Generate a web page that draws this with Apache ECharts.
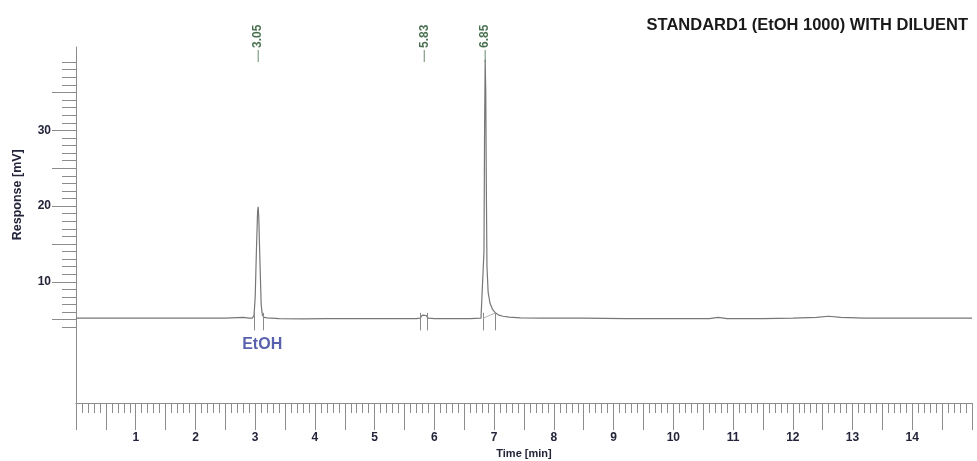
<!DOCTYPE html>
<html>
<head>
<meta charset="utf-8">
<script src="https://cdn.jsdelivr.net/npm/echarts@6/dist/echarts.min.js"></script>
<style>
	html, body { margin: 0; padding: 0; background: #fff; }
	#chart { width: 977px; height: 461px; }
</style>
</head>
<body>
<div id="chart"></div>
<script>
// chromatogram trace
var times = [0, 0.5, 1.0, 1.5, 2.0, 2.5, 2.8, 2.9, 2.95, 2.98, 3.00, 3.02, 3.04, 3.05, 3.06, 3.08, 3.10, 3.12, 3.15, 3.2,
	3.4, 3.8, 4.2, 4.6, 5.0, 5.4, 5.7, 5.76, 5.80, 5.83, 5.86, 5.90, 6.0, 6.3, 6.6, 6.78, 6.81, 6.83, 6.84, 6.85,
	6.86, 6.87, 6.88, 6.90, 6.93, 6.97, 7.02, 7.08, 7.15, 7.25, 7.44, 7.8, 8.5, 9.2, 10.0, 10.6, 10.75, 10.9, 11.5,
	12.0, 12.4, 12.6, 12.8, 13.2, 14.0, 15.0];
var response = [5.2, 5.2, 5.2, 5.2, 5.2, 5.2, 5.3, 5.2, 5.2, 5.5, 8.0, 14.0, 19.3, 19.9, 18.5, 12.5, 7.0, 5.6, 5.3, 5.25,
	5.15, 5.1, 5.15, 5.15, 5.15, 5.15, 5.15, 5.2, 5.6, 5.75, 5.55, 5.2, 5.15, 5.15, 5.15, 5.2, 5.4, 14, 30, 39.3,
	35, 22, 12, 8.6, 7.2, 6.4, 5.9, 5.6, 5.45, 5.35, 5.25, 5.2, 5.2, 5.15, 5.15, 5.15, 5.3, 5.15, 5.15,
	5.2, 5.3, 5.45, 5.3, 5.2, 5.2, 5.2];

// retention times printed above the peaks
var peakTimes = [3.05, 5.83, 6.85];
// integration start / end markers under the peaks
var markerTimes = [2.99, 3.13, 5.76, 5.88, 6.82, 7.02];
var markerTop = 5.9;
var markerBottom = 3.6;
// drawn integration baseline under the big peak (start, end)
var intBaseTimes = [6.82, 7.02];
var intBaseValues = [5.2, 5.9];

var compoundName = "EtOH";
var compoundTime = 3.05;
var baseLevel = 5.2;

var titleText = "STANDARD1 (EtOH 1000) WITH DILUENT";

var axisGray = "#8c8c8c";
var labelColor = "#23243a";

var trace = [];
for (var i = 0; i < times.length; i++) {
	trace.push([times[i], response[i]]);
}

var markerLines = [];
for (var j = 0; j < markerTimes.length; j++) {
	markerLines.push([{ coord: [markerTimes[j], markerTop] }, { coord: [markerTimes[j], markerBottom] }]);
}
markerLines.push([
	{ coord: [intBaseTimes[0], intBaseValues[0]], lineStyle: { color: "#b0b0b0" } },
	{ coord: [intBaseTimes[1], intBaseValues[1]] }
]);

var peakPoints = [];
for (var k = 0; k < peakTimes.length; k++) {
	peakPoints.push([peakTimes[k], 0]);
}

var chart = echarts.init(document.getElementById("chart"));

// main grid y from -6 (x axis) to 41 (top of axis line)
// outerBoundsMode none: keep grids where they are put, labels may hang out
var option = {
	animation: false,
	title: {
		text: titleText,
		right: 4,
		top: 12,
		textStyle: { fontFamily: "Liberation Sans", fontSize: 16.5, fontWeight: "bold", color: "#1a1a1a" }
	},
	grid: [
		{ left: 76, right: 5, top: 47, bottom: 58, outerBoundsMode: "none" },
		// minor y ticks 4..39
		{ left: 76, right: 5, top: 62.15, bottom: 133.7, outerBoundsMode: "none" },
		// major y ticks 5..35
		{ left: 76, right: 5, top: 92.45, bottom: 141.32, outerBoundsMode: "none" },
		// peak labels strip
		{ left: 76, right: 5, top: 20, bottom: 399, outerBoundsMode: "none" }
	],
	xAxis: [{
		gridIndex: 0,
		type: "value",
		min: 0,
		max: 15,
		interval: 0.5,
		name: "Time [min]",
		nameLocation: "middle",
		nameGap: 44,
		nameTextStyle: { fontFamily: "Liberation Sans", fontSize: 11, fontWeight: "bold", color: labelColor },
		axisLine: { show: true, onZero: false, lineStyle: { color: axisGray, width: 1 } },
		axisTick: { show: true, length: 27, lineStyle: { color: axisGray } },
		minorTick: { show: true, splitNumber: 5, length: 10, lineStyle: { color: axisGray } },
		splitLine: { show: false },
		axisLabel: {
			margin: 29,
			fontFamily: "Liberation Sans",
			fontSize: 12,
			fontWeight: "bold",
			color: labelColor,
			formatter: function(v) {
				return (v % 1 === 0 && v > 0 && v < 15) ? String(v) : "";
			}
		}
	}, {
		gridIndex: 1, type: "value", min: 0, max: 15, show: false
	}, {
		gridIndex: 2, type: "value", min: 0, max: 15, show: false
	}, {
		gridIndex: 3, type: "value", min: 0, max: 15, show: false
	}],
	yAxis: [{
		gridIndex: 0,
		type: "value",
		min: -6,
		max: 41,
		axisLine: { show: true, onZero: false, lineStyle: { color: axisGray, width: 1 } },
		axisTick: { show: false },
		axisLabel: { show: false },
		splitLine: { show: false }
	}, {
		gridIndex: 1,
		type: "value",
		min: 4,
		max: 39,
		interval: 1,
		name: "Response [mV]",
		nameLocation: "middle",
		nameGap: 52,
		nameTextStyle: { fontFamily: "Liberation Sans", fontSize: 12.5, fontWeight: "bold", color: labelColor },
		axisLine: { show: false, onZero: false },
		axisTick: { show: true, length: 14, lineStyle: { color: axisGray } },
		axisLabel: { show: false },
		splitLine: { show: false }
	}, {
		gridIndex: 2,
		type: "value",
		min: 5,
		max: 35,
		interval: 5,
		axisLine: { show: false, onZero: false },
		axisTick: { show: true, length: 24, lineStyle: { color: axisGray } },
		axisLabel: {
			margin: 25,
			fontFamily: "Liberation Sans",
			fontSize: 12,
			fontWeight: "bold",
			color: labelColor,
			formatter: function(v) {
				return v % 10 === 0 ? String(v) : "";
			}
		},
		splitLine: { show: false }
	}, {
		gridIndex: 3, type: "value", min: 0, max: 1, show: false
	}],
	series: [{
		name: "Response",
		type: "line",
		xAxisIndex: 0,
		yAxisIndex: 0,
		data: trace,
		showSymbol: false,
		lineStyle: { color: "#777", width: 1.2 },
		markLine: {
			silent: true,
			symbol: ["none", "none"],
			label: { show: false },
			lineStyle: { color: "#8a8a8a", width: 1, type: "solid" },
			data: markerLines
		}
	}, {
		name: "compound",
		type: "scatter",
		xAxisIndex: 0,
		yAxisIndex: 0,
		data: [{ name: compoundName, value: [compoundTime, baseLevel] }],
		symbolSize: 1,
		itemStyle: { color: "rgba(0,0,0,0)" },
		label: {
			show: true,
			position: "bottom",
			distance: 18,
			offset: [4, 0],
			formatter: "{b}",
			fontFamily: "Liberation Sans",
			fontSize: 16,
			fontWeight: "bold",
			color: "#2f3a9a"
		}
	}, {
		name: "peaks",
		type: "scatter",
		xAxisIndex: 3,
		yAxisIndex: 3,
		data: peakPoints,
		symbol: "rect",
		symbolSize: [1, 12],
		symbolOffset: [0, -6],
		itemStyle: { color: "#3f6b46" },
		label: {
			show: true,
			position: "top",
			distance: 2,
			rotate: 90,
			align: "left",
			verticalAlign: "middle",
			fontFamily: "Liberation Sans",
			fontSize: 12,
			fontWeight: "bold",
			color: "#1b4d24",
			formatter: function(p) {
				return p.value[0].toFixed(2);
			}
		}
	}]
};

chart.setOption(option);
</script>
</body>
</html>
